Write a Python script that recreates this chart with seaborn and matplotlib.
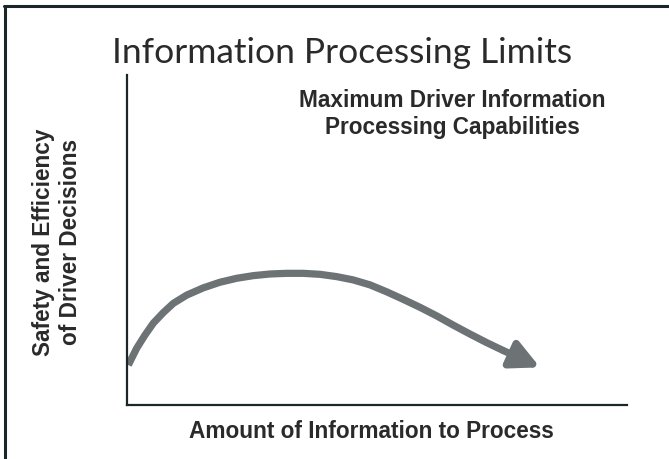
import matplotlib
matplotlib.use("Agg")
import matplotlib.pyplot as plt
from matplotlib.lines import Line2D
import seaborn as sns
import pandas as pd

# Data
info_amount = [0.26, 1.94, 3.6, 5.26, 7.26, 9.26, 11.94, 15.26, 18.6, 21.94, 25.26,
               28.6, 31.94, 35.26, 38.6, 41.94, 45.26, 48.6, 51.94, 55.26, 58.6,
               61.94, 65.26, 68.6, 71.94, 75.26]
decision_quality = [12.1, 17.2, 21.2, 24.8, 28.0, 30.8, 33.3, 35.5, 37.2, 38.4, 39.2,
                    39.7, 39.9, 39.9, 39.6, 38.9, 37.9, 36.4, 34.3, 32.0, 29.6,
                    27.0, 24.2, 21.5, 18.9, 16.5]
arrow_tip = (82.6, 11.4)

title = "Information Processing Limits"
note = "Maximum Driver Information\nProcessing Capabilities"
xlabel = "Amount of Information to Process"
ylabel = "Safety and Efficiency\nof Driver Decisions"

sns.set_style("white")
plt.rcParams['font.family'] = ['Liberation Sans', 'DejaVu Sans']

W, H = 669, 459
fig = plt.figure(figsize=(W / 100, H / 100), dpi=100)
ax = fig.add_axes([127 / W, (H - 405) / H, 500 / W, 330 / H])

df = pd.DataFrame({"x": info_amount, "y": decision_quality})
curve_color = "#6d7275"
line = sns.lineplot(data=df, x="x", y="y", sort=False, ax=ax, color=curve_color,
                    linewidth=5.2)
for l in ax.lines:
    l.set_solid_joinstyle("round")
    l.set_solid_capstyle("butt")
ax.annotate("", xy=arrow_tip, xytext=(info_amount[-1], decision_quality[-1]),
            arrowprops=dict(arrowstyle="-|>,head_length=1.7,head_width=0.85",
                            color=curve_color, lw=5.2, shrinkA=0, shrinkB=0))

ax.set_xlim(0, 100)
ax.set_ylim(0, 100)
ax.set_xticks([])
ax.set_yticks([])
for s in ["top", "right"]:
    ax.spines[s].set_visible(False)
for s in ["left", "bottom"]:
    ax.spines[s].set_color("#1c2528")
    ax.spines[s].set_linewidth(1.6)
ax.set_xlabel("")
ax.set_ylabel("")

fig.text(342 / W, 1 - 53 / H, title, ha="center", va="center", fontsize=25.5,
         family=["Lato", "DejaVu Sans"], color="#2a2a2a")
fig.text(452 / W, 1 - 114 / H, note, ha="center", va="center", fontsize=16.3,
         fontweight="bold", color="#2a2a2a", linespacing=1.25)
fig.text(371 / W, 1 - 432 / H, xlabel, ha="center", va="center", fontsize=16.3,
         fontweight="bold", color="#2a2a2a")
fig.text(57 / W, 1 - 242 / H, ylabel, ha="center", va="center", fontsize=16.3,
         fontweight="bold", color="#2a2a2a", rotation=90, linespacing=1.2)

# Frame around the figure (top and left edges visible)
fig.add_artist(Line2D([4 / W, 1], [1 - 6 / H, 1 - 6 / H], transform=fig.transFigure,
                      color="#1c2528", lw=2.2))
fig.add_artist(Line2D([5 / W, 5 / W], [0, 1 - 6 / H], transform=fig.transFigure,
                      color="#1c2528", lw=2.2))

fig.savefig("out.png", dpi=100)
